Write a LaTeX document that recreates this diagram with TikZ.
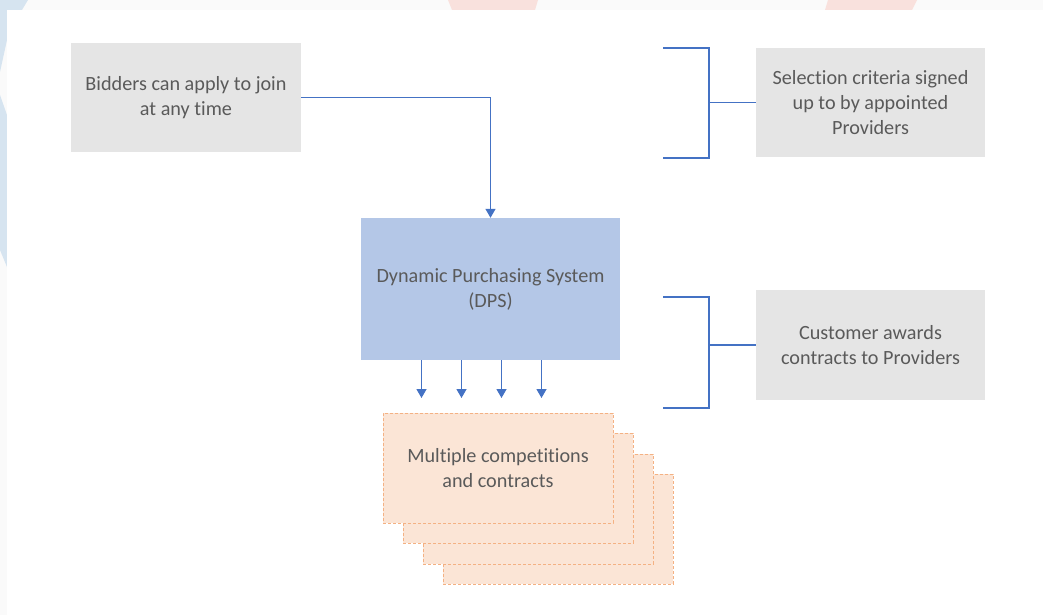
\documentclass[tikz,border=0pt]{standalone}
\usepackage{fontspec}
\setmainfont{Carlito}[Ligatures=NoCommon]
\usetikzlibrary{arrows.meta}
\definecolor{frame}{HTML}{FAFAFA}
\definecolor{decoblue}{HTML}{D6E4F0}
\definecolor{decopink}{HTML}{F9E1DD}
\definecolor{greyfill}{HTML}{E5E5E5}
\definecolor{dpsblue}{HTML}{B4C7E7}
\definecolor{peach}{HTML}{FBE5D6}
\definecolor{peachline}{HTML}{F4B183}
\definecolor{linkblue}{HTML}{4472C4}
\definecolor{txt}{HTML}{5A5A5A}
\tikzset{
  box/.style={rectangle, inner sep=0pt, align=center, text=txt,
              font=\fontsize{20.2}{25}\selectfont},
  infobox/.style={box, fill=greyfill, minimum width=229pt, minimum height=109pt},
  dpsbox/.style={box, fill=dpsblue, minimum width=259pt, minimum height=142pt},
  stackbox/.style={box, fill=peach, draw=peachline, line width=0.8pt,
                   dash pattern=on 3pt off 2pt, minimum width=230pt, minimum height=110pt},
  link/.style={draw=linkblue, line width=1.3pt},
  arr/.style={link, -{Triangle[width=10pt,length=9pt]}},
}
\begin{document}
\begin{tikzpicture}[x=1pt,y=-1pt]
  % page frame and template decorations
  \fill[frame] (0,0) rectangle (1043,615);
  \fill[decoblue] (0,0) -- (28,0) -- (22,10) -- (7,10) -- (7,40) -- (0,72) -- cycle;
  \fill[decoblue] (0,95) -- (7,115) -- (7,267) -- (0,250) -- cycle;
  \fill[decopink] (448,0) -- (538,0) -- (535,10) -- (452,10) -- cycle;
  \fill[decopink] (828,0) -- (917,0) -- (912,10) -- (825,10) -- cycle;
  \fill[white] (7,10) rectangle (1043,615);
  \useasboundingbox (0,0) rectangle (1043,615);

  % main boxes
  \node[infobox, minimum width=230pt] (bid) at (186,97.5) {Bidders can apply to join\\at any time};
  \node[infobox] (sel) at (870.5,102.5) {Selection criteria signed\\up to by appointed\\Providers};
  \node[dpsbox] (dps) at (490.5,289) {Dynamic Purchasing System\\(DPS)};
  \node[infobox, minimum height=110pt] (cust) at (870.5,345) {Customer awards\\contracts to Providers};

  % stacked competition cards, back to front
  \node[stackbox] (m4) at (558,529) {};
  \node[stackbox] (m3) at (538,509) {};
  \node[stackbox] (m2) at (518,488) {};
  \node[stackbox] (m1) at (498,468) {Multiple competitions\\and contracts};

  % bidders feed into the DPS
  \draw[arr] (bid.east) -| (dps.north);

  % DPS fans out into competitions
  \coordinate (t1) at (421.5,398);
  \coordinate (t2) at (461.5,398);
  \coordinate (t3) at (501.5,398);
  \coordinate (t4) at (541.5,398);
  \foreach \t in {t1,t2,t3,t4}
    \draw[arr] (dps.south -| \t) -- (\t);

  % brackets
  \coordinate (a1) at (663,48);
  \coordinate (a2) at (709,48);
  \coordinate (a3) at (709,158);
  \coordinate (a4) at (663,158);
  \draw[link] (a1) -- (a2) -- (a3) -- (a4);
  \draw[link] (sel.west) -- (sel.west -| a2);

  \coordinate (c1) at (663,297);
  \coordinate (c2) at (709,297);
  \coordinate (c3) at (709,408);
  \coordinate (c4) at (663,408);
  \draw[link] (c1) -- (c2) -- (c3) -- (c4);
  \draw[link] (cust.west) -- (cust.west -| c2);
\end{tikzpicture}
\end{document}
